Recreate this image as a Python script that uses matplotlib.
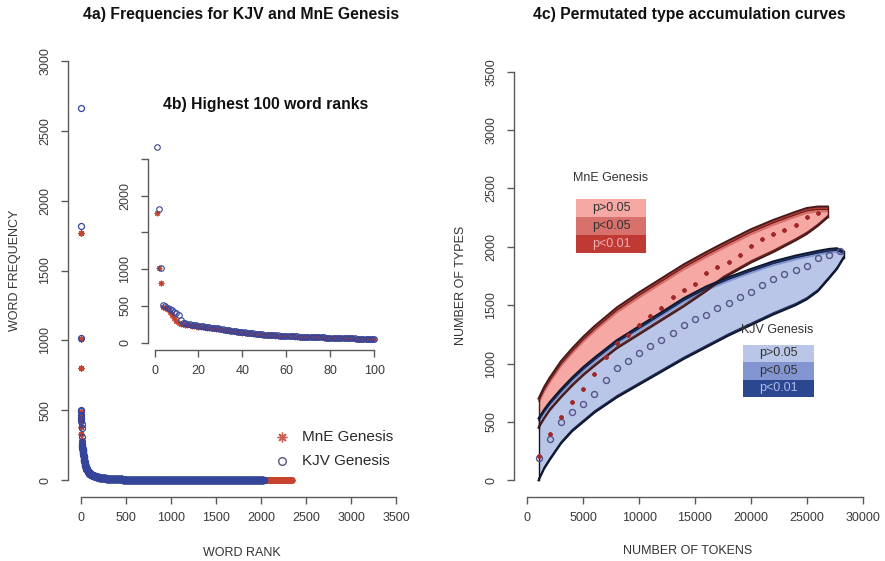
import matplotlib
matplotlib.use("Agg")
import matplotlib.pyplot as plt
from matplotlib.patches import Rectangle
import numpy as np

plt.rcParams['font.family'] = ['Liberation Sans', 'DejaVu Sans']

# ---------------- data: 4a / 4b word frequencies ----------------
kjv_top100 = [2660, 1815, 1015, 505, 495, 470, 455, 440, 420, 400,
              370, 310, 270, 262, 255, 250, 245, 240, 235, 230,
              225, 220, 215, 212, 208, 204, 200, 196, 192, 188,
              182, 176, 170, 165, 160, 156, 152, 148, 145, 142,
              138, 134, 130, 127, 124, 121, 118, 115, 112, 109,
              106, 104, 102, 100, 98, 96, 94, 92, 90, 88,
              86, 85, 84, 83, 82, 81, 80, 79, 78, 77,
              76, 75, 74, 72, 71, 70, 69, 68, 67, 66,
              65, 64, 63, 62, 61, 60, 59, 58, 57, 56,
              55, 54, 53, 52, 51, 50, 49, 48, 47, 46]
mne_top100 = [1770, 1010, 805, 490, 475, 450, 420, 380, 330, 290,
              265, 255, 250, 245, 240, 235, 230, 226, 222, 218,
              214, 210, 206, 203, 200, 197, 194, 190, 186, 182,
              177, 172, 167, 162, 157, 152, 148, 144, 140, 136,
              133, 130, 127, 124, 121, 118, 115, 112, 109, 106,
              103, 101, 99, 97, 95, 93, 91, 89, 87, 85,
              84, 83, 82, 81, 80, 79, 78, 77, 76, 75,
              74, 73, 72, 71, 70, 69, 68, 67, 66, 65,
              64, 63, 62, 61, 60, 59, 58, 57, 56, 55,
              54, 53, 52, 51, 50, 49, 48, 47, 46, 45]
# frequency spectrum of the tail (ranks > 100): frequency -> number of words
tail_freq = [45, 44, 43, 42, 41, 40, 39, 38, 37, 36, 35, 34, 33, 32, 31,
             30, 29, 28, 27, 26, 25, 24, 23, 22, 21,
             20, 19, 18, 17, 16, 15, 14, 13, 12, 11,
             10, 9, 8, 7, 6, 5, 4, 3, 2, 1]
kjv_tail_count = [3]*15 + [5]*10 + [8]*5 + [15]*5 + [20, 25, 30, 35, 45, 60, 90, 160, 300, 955]
mne_tail_count = [3]*15 + [5]*10 + [8]*5 + [16]*5 + [22, 26, 32, 38, 48, 65, 95, 180, 330, 1190]

kjv_freq = np.array(kjv_top100 + list(np.repeat(tail_freq, kjv_tail_count)))
mne_freq = np.array(mne_top100 + list(np.repeat(tail_freq, mne_tail_count)))
kjv_rank = np.arange(1, len(kjv_freq) + 1)
mne_rank = np.arange(1, len(mne_freq) + 1)

# ---------------- data: 4c type accumulation ----------------
mne_tokens = [1000, 2000, 3000, 4000, 5000, 6000, 7000, 8000, 9000, 10000,
              11000, 12000, 13000, 14000, 15000, 16000, 17000, 18000, 19000, 20000,
              21000, 22000, 23000, 24000, 25000, 26000]
mne_types = [210, 394, 545, 673, 782, 911, 1053, 1173, 1245, 1328,
             1407, 1473, 1573, 1630, 1685, 1773, 1830, 1873, 1930, 2007,
             2067, 2110, 2144, 2187, 2258, 2287]
kjv_tokens = [1000, 2000, 3000, 4000, 5000, 6000, 7000, 8000, 9000, 10000,
              11000, 12000, 13000, 14000, 15000, 16000, 17000, 18000, 19000, 20000,
              21000, 22000, 23000, 24000, 25000, 26000, 27000, 28000]
kjv_types = [194, 354, 497, 582, 654, 742, 859, 959, 1022, 1093,
             1150, 1202, 1259, 1333, 1379, 1419, 1478, 1521, 1567, 1616,
             1673, 1722, 1767, 1801, 1836, 1902, 1930, 1967]

# permutation envelopes: outer limits, plus widths of the p<0.01 / p<0.05 strips
mne_bx = [1000, 1500, 2000, 3000, 4000, 5000, 6000, 8000, 10000, 12000, 14000, 16000,
          17500, 20000, 22000, 24000, 25000, 26000, 26900]
mne_hi01 = [700, 800, 880, 1020, 1130, 1230, 1320, 1480, 1610, 1730, 1850, 1955,
            2030, 2150, 2230, 2300, 2332, 2345, 2345]
mne_lo01 = [450, 530, 600, 710, 810, 900, 980, 1130, 1250, 1370, 1490, 1620,
            1730, 1865, 1955, 2055, 2110, 2180, 2255]
mne_strip_hi = (24, 46)
mne_strip_lo = (14, 28)

kjv_bx = [1000, 1500, 2000, 3000, 4000, 5000, 6000, 8000, 10000, 12000, 14000, 16000,
          18000, 20000, 22000, 24000, 25000, 26000, 27000, 27700, 28300]
kjv_hi01 = [530, 605, 670, 780, 880, 970, 1050, 1200, 1320, 1440, 1560, 1660,
            1740, 1810, 1875, 1925, 1945, 1965, 1982, 1988, 1960]
kjv_lo01 = [0, 100, 175, 315, 420, 500, 580, 710, 820, 930, 1040, 1140,
            1240, 1330, 1420, 1500, 1550, 1620, 1730, 1810, 1905]
kjv_strip_hi = (18, 36)
kjv_strip_lo = (14, 28)

mne_cols = ['#F5A8A4', '#D8706B', '#C03A35']
kjv_cols = ['#BAC6E7', '#8395D1', '#2A4790']
level_labels = ['p>0.05', 'p<0.05', 'p<0.01']

# ---------------- figure ----------------
W, H = 885, 561
fig = plt.figure(figsize=(W / 100, H / 100), dpi=100)


def rect(px0, py0, px1, py1):
    return [px0 / W, 1 - py1 / H, (px1 - px0) / W, (py1 - py0) / H]


def ftext(px, py, s, **kw):
    fig.text(px / W, 1 - py / H, s, ha='center', va='center', **kw)


AX_COL = '#5a5a5a'
TXT_COL = '#2a2a2a'


def r_axes(ax, xb, yb, xt, yt, ytl=None, xtl=None):
    for s in ('top', 'right'):
        ax.spines[s].set_visible(False)
    for s in ('left', 'bottom'):
        ax.spines[s].set_color(AX_COL)
        ax.spines[s].set_linewidth(1.0)
    ax.spines['left'].set_bounds(*yb)
    ax.spines['bottom'].set_bounds(*xb)
    ax.set_xticks(xt)
    ax.set_yticks(yt)
    if xtl is not None:
        ax.set_xticklabels(xtl)
    if ytl is not None:
        ax.set_yticklabels(ytl)
    ax.tick_params(direction='out', length=5, width=1.0, color=AX_COL,
                   labelcolor='#3a3a3a', labelsize=9)
    ax.tick_params(axis='y', pad=7)
    ax.tick_params(axis='x', pad=6)
    for lab in ax.get_yticklabels():
        lab.set_rotation(90)
        lab.set_va('center')
    ax.patch.set_visible(False)


KJV_C = '#34459a'
MNE_C = '#c8432f'

# ---- 4a main ----
ax1 = fig.add_axes(rect(68, 44, 409, 497))
ax1.plot(mne_rank, mne_freq, linestyle='none', marker=(8, 2, 0), ms=4.5,
         mec=MNE_C, mew=0.9)
ax1.plot(kjv_rank, kjv_freq, linestyle='none', marker='o', ms=4.3, mfc='none',
         mec=KJV_C, mew=0.9)
ax1.set_xlim(-140, 3640)
ax1.set_ylim(-120, 3120)
r_axes(ax1, (0, 3500), (0, 3000), np.arange(0, 3501, 500), np.arange(0, 3001, 500))

# legend (R style, no box)
ax1.plot([2233], [308], linestyle='none', marker=(8, 2, 0), ms=7, mec='#d06050', mew=1.0)
ax1.plot([2233], [136], linestyle='none', marker='o', ms=5.5, mfc='none', mec='#555577', mew=1.0)
ax1.text(2450, 308, 'MnE Genesis', fontsize=11, color=TXT_COL, va='center', ha='left')
ax1.text(2450, 136, 'KJV Genesis', fontsize=11, color=TXT_COL, va='center', ha='left')

# ---- 4b inset ----
ax2 = fig.add_axes(rect(148, 139, 383, 350))
ax2.plot(mne_rank[:100], mne_freq[:100], linestyle='none', marker=(8, 2, 0), ms=4.0,
         mec=MNE_C, mew=0.8)
ax2.plot(kjv_rank[:100], kjv_freq[:100], linestyle='none', marker='o', ms=4.0, mfc='none',
         mec=KJV_C, mew=0.8)
ax2.set_xlim(-2.96, 103.96)
ax2.set_ylim(-102, 2772)
r_axes(ax2, (0, 100), (0, 2500), np.arange(0, 101, 20), np.arange(0, 2501, 500),
       ytl=['0', '500', '1000', '', '2000', ''])

# ---- 4c ----
ax3 = fig.add_axes(rect(514, 55.4, 876, 496.6))


def band(ax, bx, lo01, hi01, s_lo, s_hi, cols, edge):
    bx = np.asarray(bx, float)
    lo01 = np.asarray(lo01, float)
    hi01 = np.asarray(hi01, float)
    lo05, lo = lo01 + s_lo[0], lo01 + s_lo[1]
    hi05, hi = hi01 - s_hi[0], hi01 - s_hi[1]
    ax.fill_between(bx, lo01, hi01, color=cols[2], lw=0)
    ax.fill_between(bx, lo05, hi05, color=cols[1], lw=0)
    ax.fill_between(bx, lo, hi, color=cols[0], lw=0)
    for arr, lw in ((hi01, 1.5), (lo01, 1.5), (hi05, 0.6), (lo05, 0.6)):
        ax.plot(bx, arr, color=edge, lw=lw, solid_joinstyle='round')
    ax.plot([bx[0], bx[0]], [lo01[0], hi01[0]], color=edge, lw=1.0)
    ax.plot([bx[-1], bx[-1]], [lo01[-1], hi01[-1]], color=edge, lw=1.0)


band(ax3, mne_bx, mne_lo01, mne_hi01, mne_strip_lo, mne_strip_hi, mne_cols, '#4a1a1a')
band(ax3, kjv_bx, kjv_lo01, kjv_hi01, kjv_strip_lo, kjv_strip_hi, kjv_cols, '#101830')

ax3.plot(kjv_tokens, kjv_types, linestyle='none', marker='o', ms=4.3, mfc='none',
         mec='#55558a', mew=1.0)
ax3.plot(mne_tokens, mne_types, linestyle='none', marker=(8, 2, 0), ms=3.0,
         mec='#a02828', mew=1.0)
ax3.set_xlim(-1200, 31200)
ax3.set_ylim(-140, 3640)
r_axes(ax3, (0, 30000), (0, 3500), np.arange(0, 30001, 5000), np.arange(0, 3501, 500))

# legends with coloured boxes
ax3.text(7487, 2591, 'MnE Genesis', fontsize=9, color='#333333', ha='center', va='center')
rows_m = [2407, 2255, 2103, 1950]
for i in range(3):
    ax3.add_patch(Rectangle((4356, rows_m[i + 1]), 10617 - 4356, rows_m[i] - rows_m[i + 1],
                            facecolor=mne_cols[i], edgecolor='none'))
    ax3.text(7487, (rows_m[i] + rows_m[i + 1]) / 2, level_labels[i], fontsize=9,
             color='#f0b0b0' if i == 2 else '#333333', ha='center', va='center')

ax3.text(22335, 1287, 'KJV Genesis', fontsize=9, color='#333333', ha='center', va='center')
rows_k = [1163, 1013, 863, 713]
for i in range(3):
    ax3.add_patch(Rectangle((19320, rows_k[i + 1]), 25644 - 19320, rows_k[i] - rows_k[i + 1],
                            facecolor=kjv_cols[i], edgecolor='none'))
    ax3.text(22482, (rows_k[i] + rows_k[i + 1]) / 2, level_labels[i], fontsize=9,
             color='#aebcec' if i == 2 else '#333333', ha='center', va='center')

# ---- titles and axis labels ----
ftext(241, 14, '4a) Frequencies for KJV and MnE Genesis', fontsize=11.3, fontweight='bold', color='#111111')
ftext(265.5, 105, '4b) Highest 100 word ranks', fontsize=11.3, fontweight='bold', color='#111111')
ftext(689, 14, '4c) Permutated type accumulation curves', fontsize=11.3, fontweight='bold', color='#111111')
ftext(242, 553, 'WORD RANK', fontsize=9, color='#333333')
ftext(15, 270, 'WORD FREQUENCY', fontsize=9, color='#333333', rotation=90)
ftext(688, 551, 'NUMBER OF TOKENS', fontsize=9, color='#333333')
ftext(461, 285, 'NUMBER OF TYPES', fontsize=9, color='#333333', rotation=90)

fig.savefig('out.png', dpi=100)
